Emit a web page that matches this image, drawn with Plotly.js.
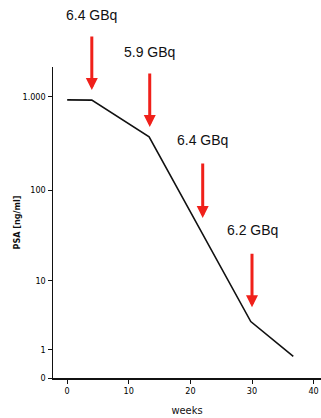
<!DOCTYPE html>
<html>
<head>
<meta charset="utf-8">
<script src="https://cdn.plot.ly/plotly-3.0.1.min.js"></script>
<style>html,body{margin:0;padding:0;background:#fff;}#chart{width:321px;height:418px;}</style>
</head>
<body>
<div id="chart"></div>
<script>
// Data
var weeks = [0, 4, 13.3, 29.8, 36.7];
var psa = [930, 925, 375, 3.0, 0.7];
var yTickValues = [0, 1, 10, 100, 1000];
var yTickLabels = ["0", "1", "10", "100", "1.000"];
var xTickValues = [0, 10, 20, 30, 40];
var doseWeeks = [4, 13.4, 22, 30];
var doseLabels = ["6.4 GBq", "5.9 GBq", "6.4 GBq", "6.2 GBq"];
// arrow tip / tail and label levels (PSA units, on the log(y+1) scale)
var arrowTip = [1188, 478, 50, 4.7];
var arrowTail = [4590, 1850, 201, 21];
var labelLevel = [7500, 3020, 347, 37];

var yTop = 3.32;
function tr(v) { return Math.log10(v + 1); }

var trace = {
  x: weeks,
  y: psa.map(tr),
  type: 'scatter',
  mode: 'lines',
  line: {color: '#111', width: 1.6},
  hoverinfo: 'skip'
};

var annotations = [];
for (var i = 0; i < doseWeeks.length; i++) {
  annotations.push({
    x: doseWeeks[i], y: tr(arrowTip[i]), xref: 'x', yref: 'y',
    ax: doseWeeks[i], ay: tr(arrowTail[i]), axref: 'x', ayref: 'y',
    text: '', showarrow: true, arrowhead: 2, arrowsize: 0.8, arrowwidth: 3,
    arrowcolor: '#f0201a', standoff: 0, startstandoff: 0
  });
  annotations.push({
    x: doseWeeks[i], y: tr(labelLevel[i]) / yTop, xref: 'x', yref: 'paper',
    text: doseLabels[i], showarrow: false, yanchor: 'middle',
    font: {family: 'Liberation Sans, Arial, sans-serif', size: 14, color: '#111'}
  });
}

var layout = {
  width: 321, height: 418,
  margin: {l: 53, r: 0, t: 67, b: 40},
  paper_bgcolor: '#fff', plot_bgcolor: '#fff',
  showlegend: false,
  xaxis: {
    range: [-2.3, 41.2],
    tickvals: xTickValues,
    ticktext: xTickValues.map(String),
    showgrid: false, zeroline: false,
    showline: true, linecolor: '#111', linewidth: 1.5,
    ticks: 'outside', ticklen: 4, tickcolor: '#111', tickwidth: 1,
    tickfont: {family: 'DejaVu Sans Condensed, DejaVu Sans, sans-serif', size: 9, color: '#000'},
    title: {text: 'weeks', font: {family: 'DejaVu Sans Condensed, DejaVu Sans, sans-serif', size: 11, color: '#111'}, standoff: 11}
  },
  yaxis: {
    range: [0, yTop],
    tickvals: yTickValues.map(tr),
    ticktext: yTickLabels,
    showgrid: false, zeroline: false,
    showline: true, linecolor: '#111', linewidth: 1.5,
    ticks: 'outside', ticklen: 4, tickcolor: '#111', tickwidth: 1,
    tickfont: {family: 'DejaVu Sans Condensed, DejaVu Sans, sans-serif', size: 9, color: '#000'},
    title: {text: '<b>PSA [ng/ml]</b>', font: {family: 'DejaVu Sans Condensed, DejaVu Sans, sans-serif', size: 9, color: '#111'}, standoff: 0}
  },
  annotations: annotations
};

Plotly.newPlot('chart', [trace], layout, {staticPlot: true, displayModeBar: false});
</script>
</body>
</html>
